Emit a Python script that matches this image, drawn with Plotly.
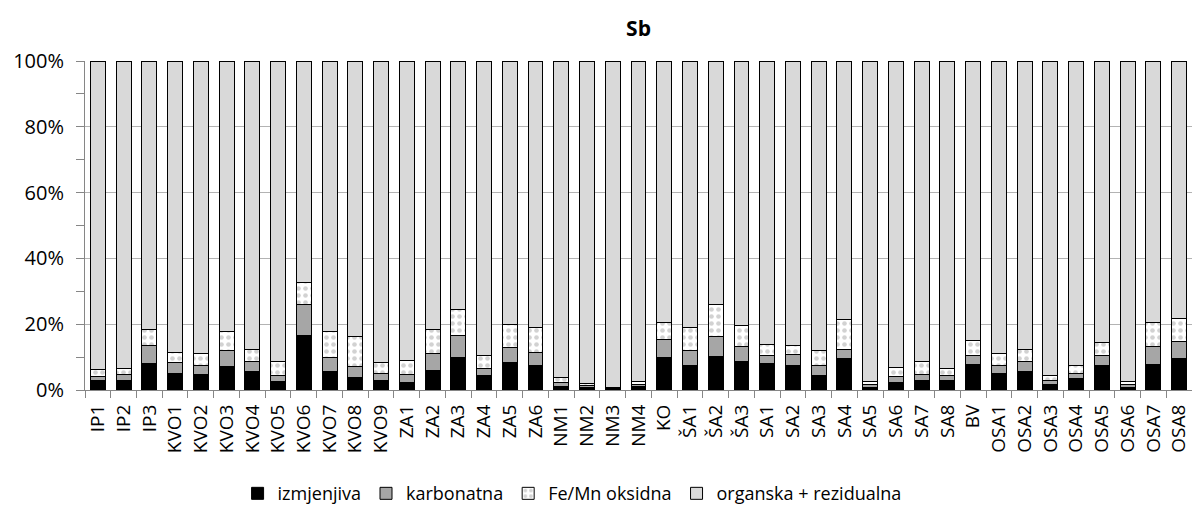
import plotly.graph_objects as go

categories = ["IP1", "IP2", "IP3", "KVO1", "KVO2", "KVO3", "KVO4", "KVO5", "KVO6", "KVO7",
              "KVO8", "KVO9", "ZA1", "ZA2", "ZA3", "ZA4", "ZA5", "ZA6", "NM1", "NM2",
              "NM3", "NM4", "KO", "ŠA1", "ŠA2", "ŠA3", "SA1", "SA2", "SA3", "SA4",
              "SA5", "SA6", "SA7", "SA8", "BV", "OSA1", "OSA2", "OSA3", "OSA4", "OSA5",
              "OSA6", "OSA7", "OSA8"]

izmjenjiva = [2.8, 2.8, 8.0, 4.9, 4.6, 7.0, 5.6, 2.7, 16.7, 5.6,
              3.9, 2.8, 2.4, 5.9, 9.9, 4.3, 8.5, 7.3, 1.2, 0.8,
              0.5, 1.0, 9.9, 7.3, 10.2, 8.8, 8.0, 7.3, 4.3, 9.6,
              0.7, 2.2, 2.9, 2.9, 7.8, 4.9, 5.6, 1.7, 3.5, 7.3,
              0.9, 7.8, 9.5]
karbonatna = [1.4, 1.8, 5.4, 3.5, 2.9, 5.1, 3.2, 1.7, 9.2, 4.4,
              3.3, 2.3, 2.3, 5.1, 6.8, 2.3, 4.4, 4.1, 1.1, 0.5,
              0.1, 0.7, 5.4, 4.8, 6.1, 4.4, 2.4, 3.4, 3.2, 2.6,
              1.1, 1.9, 1.9, 1.5, 2.8, 2.6, 3.0, 1.3, 1.6, 3.1,
              0.7, 5.4, 5.1]
femn_oksidna = [2.0, 2.0, 5.0, 3.0, 3.5, 5.7, 3.4, 4.2, 6.8, 7.8,
                9.1, 3.2, 4.3, 7.5, 7.8, 3.9, 7.0, 7.5, 1.5, 0.6,
                0.1, 1.0, 5.1, 6.8, 9.6, 6.4, 3.3, 2.8, 4.6, 9.2,
                0.7, 2.8, 3.9, 2.1, 4.5, 3.6, 3.6, 1.5, 2.5, 3.9,
                1.0, 7.2, 7.0]
organska_rezidualna = [93.8, 93.4, 81.6, 88.6, 89.0, 82.2, 87.8, 91.4, 67.3, 82.2,
                       83.7, 91.7, 91.0, 81.5, 75.5, 89.5, 80.1, 81.1, 96.2, 98.1,
                       99.3, 97.3, 79.6, 81.1, 74.1, 80.4, 86.3, 86.5, 87.9, 78.6,
                       97.5, 93.1, 91.3, 93.5, 84.9, 88.9, 87.8, 95.5, 92.4, 85.7,
                       97.4, 79.6, 78.4]

series_names = ["izmjenjiva", "karbonatna", "Fe/Mn oksidna", "organska + rezidualna"]
y_ticks = [0, 20, 40, 60, 80, 100]
y_tick_labels = ["0%", "20%", "40%", "60%", "80%", "100%"]

FONT = "Open Sans, Lato, DejaVu Sans, sans-serif"
line = dict(color="black", width=1)

fig = go.Figure()
fig.add_trace(go.Bar(x=categories, y=izmjenjiva, name=series_names[0],
                     marker=dict(color="#000000", line=line)))
fig.add_trace(go.Bar(x=categories, y=karbonatna, name=series_names[1],
                     marker=dict(color="#a6a6a6", line=line)))
fig.add_trace(go.Bar(x=categories, y=femn_oksidna, name=series_names[2],
                     marker=dict(color="#ffffff", line=line,
                                 pattern=dict(shape=".", fgcolor="#a6a6a6", bgcolor="#ffffff",
                                              size=7, solidity=0.35, fillmode="overlay"))))
fig.add_trace(go.Bar(x=categories, y=organska_rezidualna, name=series_names[3],
                     marker=dict(color="#d9d9d9", line=line)))

fig.update_layout(
    barmode="stack",
    bargap=0.42,
    width=1192, height=506,
    margin=dict(l=85, r=0, t=61, b=116, autoexpand=False),
    paper_bgcolor="white", plot_bgcolor="white",
    font=dict(family=FONT, color="black"),
    title=dict(text="<b>Sb</b>", x=0.5, xanchor="center", xref="paper",
               y=1 - 29 / 506, yanchor="middle", yref="container",
               font=dict(size=21, family=FONT)),
    legend=dict(orientation="h", x=0.44, xanchor="center", y=-0.315, yanchor="middle",
                font=dict(size=18), traceorder="normal", itemwidth=30,
                bgcolor="rgba(0,0,0,0)"),
    showlegend=True,
)
fig.update_xaxes(
    type="category", tickangle=-90, tickfont=dict(size=19), automargin=False,
    showline=True, linecolor="#868686", linewidth=1,
    ticks="outside", ticklen=7, tickcolor="#868686", tickson="boundaries",
    ticklabelstandoff=6,
    showgrid=False,
)
fig.update_yaxes(
    range=[0, 100], tickvals=y_ticks, ticktext=y_tick_labels, tickfont=dict(size=20),
    automargin=False,
    showline=True, linecolor="#868686", linewidth=1,
    ticks="outside", ticklen=8, tickcolor="#868686",
    ticklabelstandoff=8,
    showgrid=True, gridcolor="#b3b3b3", gridwidth=1, zeroline=False,
    minor=dict(dtick=10, ticks="outside", ticklen=8, tickcolor="#868686", showgrid=False),
)

fig.write_html("out.html", config={"displayModeBar": False},
               post_script="document.body.style.margin='0';document.body.style.overflow='hidden';")
